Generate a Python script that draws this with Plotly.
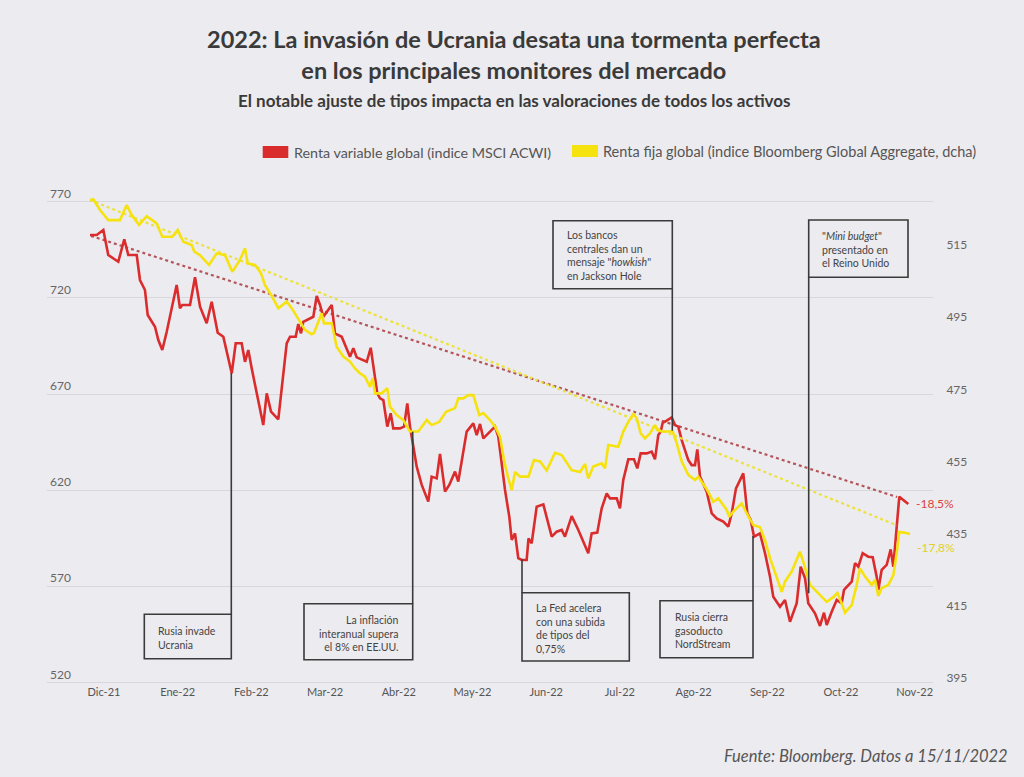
import plotly.graph_objects as go

# ---------------- DATA ----------------
meses = ["Dic-21", "Ene-22", "Feb-22", "Mar-22", "Abr-22", "May-22",
         "Jun-22", "Jul-22", "Ago-22", "Sep-22", "Oct-22", "Nov-22"]

# x = position in months (0 = Dic-21)
mes_rv = [-0.190,-0.099,-0.009,0.058,0.194,0.275,0.330,0.444,0.488,0.556,
          0.593,0.692,0.737,0.791,0.851,0.927,0.986,1.031,1.062,1.167,
          1.235,1.303,1.393,1.461,1.543,1.619,1.687,1.733,1.787,1.868,
          1.913,1.958,2.004,2.094,2.161,2.208,2.266,2.365,2.419,2.479,
          2.524,2.601,2.636,2.673,2.704,2.840,2.886,2.931,2.976,3.090,
          3.134,3.225,3.338,3.383,3.429,3.565,3.619,3.664,3.708,3.745,
          3.790,3.844,3.890,3.925,4.016,4.071,4.115,4.152,4.197,4.243,
          4.311,4.400,4.446,4.514,4.559,4.627,4.685,4.763,4.807,4.875,
          4.921,5.011,5.057,5.102,5.147,5.214,5.305,5.350,5.396,5.441,
          5.499,5.532,5.577,5.621,5.667,5.735,5.760,5.803,5.871,5.961,
          6.028,6.075,6.142,6.210,6.255,6.346,6.436,6.527,6.571,6.617,
          6.693,6.753,6.821,6.866,6.957,7.001,7.046,7.114,7.191,7.236,
          7.282,7.364,7.431,7.476,7.521,7.553,7.581,7.635,7.703,7.748,
          7.792,7.839,7.928,7.974,8.019,8.050,8.087,8.178,8.246,8.313,
          8.403,8.471,8.517,8.575,8.674,8.729,8.775,8.820,8.901,8.969,
          9.037,9.081,9.172,9.240,9.308,9.399,9.453,9.512,9.556,9.647,
          9.715,9.769,9.806,9.874,9.942,10.009,10.041,10.145,10.190,10.235,
          10.294,10.370,10.430,10.484,10.506,10.552,10.620,10.674,10.710,10.756,
          10.791,10.845,10.913]
renta_variable = [752.7,752.7,755.3,742.3,738.8,750.5,742.3,742.3,729.3,724.1,
          711.1,705.0,698.1,692.9,702.4,715.4,726.7,714.6,716.3,716.3,
          730.7,715.4,706.8,718.0,701.9,699.8,689.4,680.8,696.4,696.4,
          686.8,692.9,683.4,666.9,653.9,670.4,660.9,656.9,677.3,696.4,
          699.8,699.8,706.4,701.6,707.6,710.2,721.0,716.3,710.2,716.3,
          701.6,699.8,689.4,693.8,689.1,686.8,694.1,682.5,670.4,667.8,
          666.9,653.1,660.0,652.2,652.2,653.1,665.2,653.1,642.7,632.3,
          622.8,614.1,627.1,626.2,638.9,619.3,622.8,629.7,624.5,641.0,
          650.5,654.8,648.7,654.5,647.0,649.6,653.1,647.9,632.3,620.2,
          606.3,594.2,597.6,584.7,583.8,583.8,595.0,592.5,611.5,612.7,
          602.8,595.9,598.5,599.4,595.9,606.6,599.4,590.7,587.3,597.6,
          598.0,610.6,618.4,615.8,615.8,610.6,625.4,636.1,636.1,631.4,
          639.2,639.2,640.1,636.1,648.7,650.5,655.1,656.2,657.9,653.9,
          653.1,646.1,635.7,633.1,633.1,641.3,627.1,619.3,608.0,605.4,
          603.7,601.1,608.0,621.0,628.8,608.0,604.6,595.9,597.6,587.3,
          575.1,564.7,559.5,563.0,551.7,561.3,580.3,574.3,561.3,556.1,
          549.5,556.4,550.0,556.9,563.0,561.3,568.2,572.5,582.1,580.3,
          587.3,585.5,585.2,575.1,568.2,578.6,581.2,589.3,580.3,601.1,
          616.7,615.0,612.9]

mes_rf = [-0.190,-0.145,-0.054,0.058,0.217,0.308,0.376,0.475,0.579,0.647,
          0.715,0.791,0.927,1.000,1.076,1.190,1.225,1.303,1.425,1.529,
          1.642,1.741,1.845,1.913,1.950,2.049,2.130,2.185,2.275,2.365,
          2.479,2.547,2.636,2.727,2.818,2.849,2.954,2.985,3.090,3.157,
          3.247,3.338,3.406,3.464,3.541,3.609,3.646,3.677,3.768,3.844,
          3.880,3.972,4.061,4.152,4.265,4.379,4.446,4.550,4.640,4.763,
          4.807,4.875,4.943,5.011,5.092,5.147,5.237,5.305,5.373,5.427,
          5.486,5.532,5.577,5.645,5.760,5.834,5.916,6.007,6.119,6.210,
          6.346,6.459,6.527,6.571,6.639,6.753,6.798,6.843,6.978,7.046,
          7.114,7.182,7.228,7.282,7.341,7.408,7.476,7.508,7.567,7.657,
          7.716,7.771,7.839,7.928,8.019,8.064,8.182,8.267,8.335,8.449,
          8.484,8.539,8.653,8.721,8.765,8.810,8.901,8.969,9.037,9.128,
          9.196,9.240,9.331,9.444,9.489,9.580,9.692,9.806,9.896,9.950,
          10.009,10.054,10.145,10.213,10.258,10.326,10.417,10.461,10.506,10.552,
          10.642,10.710,10.756,10.791,10.855,10.936]
renta_fija = [527.5,527.7,524.7,521.9,521.9,526.1,523.3,520.6,523.0,521.9,
          521.0,517.3,517.3,519.2,515.9,515.0,513.2,512.2,509.5,512.7,
          512.2,507.6,510.9,514.1,509.9,509.5,507.2,503.9,500.9,497.5,
          499.3,497.5,494.7,491.5,490.3,490.6,496.1,493.3,493.3,486.8,
          484.1,482.7,480.8,479.6,478.5,475.7,478.1,473.9,473.9,475.3,
          470.2,467.9,466.5,463.3,463.3,466.5,465.1,466.0,468.8,469.8,
          472.5,472.5,473.4,473.4,467.9,468.4,466.5,464.7,461.9,455.4,
          450.3,447.1,452.1,450.8,450.8,455.4,455.0,452.5,457.4,456.8,
          452.6,452.1,454.3,450.3,453.6,454.5,453.1,459.6,459.1,463.3,
          466.0,468.2,467.0,462.8,461.4,462.8,465.1,463.7,463.3,463.3,
          463.3,460.1,455.0,451.3,449.9,450.8,447.2,443.8,444.8,441.6,
          439.7,441.1,443.4,440.6,438.8,437.4,436.8,433.2,428.2,423.1,
          418.9,421.7,424.5,430.0,427.2,420.8,418.5,416.1,417.4,418.6,
          415.7,413.1,415.2,420.8,425.4,423.1,420.8,422.2,417.7,419.9,
          420.8,423.5,429.6,435.5,435.3,434.9]

tendencia_rv_x = [-0.176, 10.760]
tendencia_rv = [752.2, 616.5]
tendencia_rf_x = [-0.190, 10.760]
tendencia_rf = [527.5, 437.3]

ticks_izq = [520, 570, 620, 670, 720, 770]
ticks_dcha = [395, 415, 435, 455, 475, 495, 515]

etiqueta_rv = "-18,5%"
etiqueta_rf = "-17,8%"

# ---------------- STYLE ----------------
BG = "#ecebef"
RED = "#da2c2c"
YEL = "#f6e20f"
FONT = "Lato"

# plot area in pixels
L, T, W, H = 47, 178, 886, 506

# axis scale (pixels per unit) used for ranges
LEFT_PPU = 1.924    # px per unit, left axis
RIGHT_PPU = 3.608   # px per unit, right axis
Y770 = 201.7        # pixel row of the 770 gridline
Y395 = 678.0        # pixel row of the 395 label


def px(x):
    return (x - L) / W


def py(y):
    return (T + H - y) / H


left_range = [770 - (T + H - Y770) / LEFT_PPU, 770 + (Y770 - T) / LEFT_PPU]
right_range = [395 - (T + H - Y395) / RIGHT_PPU, 395 + (Y395 - T) / RIGHT_PPU]

fig = go.Figure()

fig.add_trace(go.Scatter(x=tendencia_rv_x, y=tendencia_rv, mode="lines",
                         line=dict(color="#b4555a", width=2.2, dash="dot"),
                         yaxis="y", showlegend=False, hoverinfo="skip"))
fig.add_trace(go.Scatter(x=tendencia_rf_x, y=tendencia_rf, mode="lines",
                         line=dict(color="#ece23a", width=2.2, dash="dot"),
                         yaxis="y2", showlegend=False, hoverinfo="skip"))
fig.add_trace(go.Scatter(x=mes_rf, y=renta_fija, mode="lines",
                         line=dict(color=YEL, width=2.6),
                         yaxis="y2", name="Renta fija global", showlegend=False))
fig.add_trace(go.Scatter(x=mes_rv, y=renta_variable, mode="lines",
                         line=dict(color=RED, width=2.6),
                         yaxis="y", name="Renta variable global", showlegend=False))

shapes = []
annotations = []

# annotation boxes (pixel geometry)
boxes = [(144.3, 614.3, 231.3, 658.7), (304, 603.7, 412.7, 659.7),
         (522, 592.7, 629.3, 661), (660, 600.7, 753, 657.7),
         (553, 220.7, 672.3, 288.7), (808.7, 220, 908, 277.3)]
for x0, y0, x1, y1 in boxes:
    shapes.append(dict(type="rect", xref="paper", yref="paper",
                       x0=px(x0), x1=px(x1), y0=py(y1), y1=py(y0),
                       line=dict(color="#3a3a3a", width=1.6), fillcolor="rgba(0,0,0,0)"))
connectors = [(231.3, 373, 614.3), (412.7, 431.7, 603.7), (522, 559.3, 592.7),
              (753, 536, 600.7), (672.3, 288.7, 430.7), (808.7, 277.3, 593.3)]
for x, y0, y1 in connectors:
    shapes.append(dict(type="line", xref="paper", yref="paper",
                       x0=px(x), x1=px(x), y0=py(y0), y1=py(y1),
                       line=dict(color="#3a3a3a", width=1.6)))

texts = [
    ("Rusia invade<br>Ucrania", 156, 637.5, "left"),
    ("La inflación<br>interanual supera<br>el 8% en EE.UU.", 400.7, 633, "right"),
    ("La Fed acelera<br>con una subida<br>de tipos del<br>0,75%", 534.3, 628.5, "left"),
    ("Rusia cierra<br>gasoducto<br>NordStream", 672.7, 630, "left"),
    ("Los bancos<br>centrales dan un<br>mensaje \"<i>howkish</i>\"<br>en Jackson Hole", 565.3, 255.3, "left"),
    ("\"<i>Mini budget</i>\"<br>presentado en<br>el Reino Unido", 820.3, 249.6, "left"),
]
for t, x, y, al in texts:
    annotations.append(dict(text=t, xref="paper", yref="paper", x=px(x), y=py(y),
                            xanchor=al, yanchor="middle", align=al, showarrow=False,
                            font=dict(family=FONT, size=10.5, color="#444444")))

# title / subtitle
annotations.append(dict(text="<b>2022: La invasión de Ucrania desata una tormenta perfecta<br>en los principales monitores del mercado</b>",
                        xref="paper", yref="paper", x=px(514), y=py(54),
                        xanchor="center", yanchor="middle", align="center", showarrow=False,
                        font=dict(family=FONT, size=23.5, color="#3a3a3a")))
annotations.append(dict(text="<b>El notable ajuste de tipos impacta en las valoraciones de todos los activos</b>",
                        xref="paper", yref="paper", x=px(514), y=py(100),
                        xanchor="center", yanchor="middle", showarrow=False,
                        font=dict(family=FONT, size=17, color="#3a3a3a")))

# legend
shapes.append(dict(type="rect", xref="paper", yref="paper", x0=px(262.7), x1=px(288.3),
                   y0=py(158), y1=py(146), fillcolor=RED, line=dict(width=0)))
shapes.append(dict(type="rect", xref="paper", yref="paper", x0=px(572), x1=px(598),
                   y0=py(157), y1=py(145), fillcolor=YEL, line=dict(width=0)))
annotations.append(dict(text="Renta variable global (indice MSCI ACWI)", xref="paper", yref="paper",
                        x=px(292), y=py(152), xanchor="left", yanchor="middle", showarrow=False,
                        font=dict(family=FONT, size=14.3, color="#555555")))
annotations.append(dict(text="Renta fija global (indice Bloomberg Global Aggregate, dcha)", xref="paper", yref="paper",
                        x=px(601), y=py(151), xanchor="left", yanchor="middle", showarrow=False,
                        font=dict(family=FONT, size=14.5, color="#555555")))

# end labels
annotations.append(dict(text=etiqueta_rv, xref="x", yref="y", x=mes_rv[-1], y=renta_variable[-1],
                        xanchor="left", yanchor="middle", xshift=6, showarrow=False,
                        font=dict(family=FONT, size=12, color="#d8453c")))
annotations.append(dict(text=etiqueta_rf, xref="x", yref="y2", x=mes_rf[-1], y=renta_fija[-1],
                        xanchor="left", yanchor="middle", xshift=5, yshift=-13, showarrow=False,
                        font=dict(family=FONT, size=12, color="#e3d21c")))

# source
annotations.append(dict(text="<i>Fuente: Bloomberg. Datos a 15/11/2022</i>", xref="paper", yref="paper",
                        x=px(1010), y=py(756), xanchor="right", yanchor="middle", showarrow=False,
                        font=dict(family=FONT, size=16.5, color="#555555")))

fig.update_layout(
    width=1024, height=777, autosize=False,
    margin=dict(l=L, r=1024 - L - W, t=T, b=777 - T - H, pad=0),
    paper_bgcolor=BG, plot_bgcolor=BG,
    showlegend=False,
    xaxis=dict(range=[(L - 104) / 73.7, (L + W - 104) / 73.7],
               tickvals=list(range(len(meses))), ticktext=meses,
               showgrid=False, zeroline=False, showline=False, ticks="",
               tickfont=dict(family=FONT, size=11, color="#555555")),
    yaxis=dict(range=left_range, tickvals=ticks_izq,
               showgrid=True, gridcolor="#d8d7dc", gridwidth=1, zeroline=False,
               showline=False, ticks="", ticklabelposition="inside top",
               tickfont=dict(family=FONT, size=12, color="#666666")),
    yaxis2=dict(range=right_range, tickvals=ticks_dcha, overlaying="y", side="right",
                showgrid=False, zeroline=False, showline=False,
                ticks="outside", ticklen=10, tickcolor=BG,
                tickfont=dict(family=FONT, size=12, color="#666666")),
    shapes=shapes,
    annotations=annotations,
)

fig.write_html("out.html",
               config={"displayModeBar": False},
               post_script="document.body.style.margin='0';document.body.style.background='%s';" % BG)
